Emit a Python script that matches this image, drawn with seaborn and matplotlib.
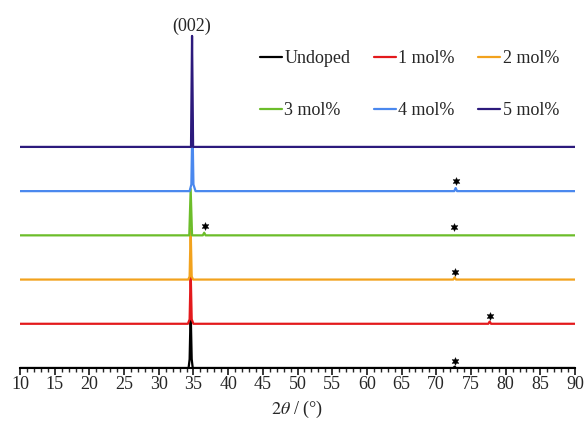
import matplotlib
matplotlib.use('Agg')
import matplotlib.pyplot as plt
import seaborn as sns
import pandas as pd
from matplotlib.ticker import MultipleLocator

# campioni e colori
campioni = ['Undoped', '1 mol%', '2 mol%', '3 mol%', '4 mol%', '5 mol%']
colori = ['#000000', '#e3191c', '#f2a21d', '#6cbd2a', '#4a88ee', '#2c1a7c']

# pattern XRD (2theta, intensita' relativa alla linea di base)
tt_undoped = [10, 34.3, 34.45, 34.6, 34.75, 34.9, 72.45, 72.65, 72.85, 90]
int_undoped = [0, 0, 0.2, 1.3, 0.2, 0, 0, 0.03, 0, 0]
tt_1 = [10, 34.2, 34.45, 34.6, 34.75, 35.0, 77.5, 77.7, 77.9, 90]
int_1 = [0, 0, 0.1, 1.2, 0.1, 0, 0, 0.05, 0, 0]
tt_2 = [10, 34.25, 34.45, 34.6, 34.75, 34.95, 72.45, 72.65, 72.85, 90]
int_2 = [0, 0, 0.07, 1.15, 0.07, 0, 0, 0.05, 0, 0]
tt_3 = [10, 34.4, 34.6, 34.8, 36.35, 36.55, 36.75, 90]
int_3 = [0, 0, 1.05, 0, 0, 0.06, 0, 0]
tt_4 = [10, 34.45, 34.7, 34.85, 35.0, 35.3, 72.6, 72.8, 73.0, 90]
int_4 = [0, 0, 0.15, 1.6, 0.15, 0, 0, 0.07, 0, 0]
tt_5 = [10, 34.65, 34.8, 34.95, 90]
int_5 = [0, 0, 2.51, 0, 0]

# asterischi (2theta, altezza sopra la linea di base)
stelle_tt = [72.65, 77.7, 72.65, 36.6, 72.6, 72.85]
stelle_y = [0.15, 0.18, 0.18, 0.21, 0.18, 0.23]
stelle_serie = [0, 1, 2, 3, 3, 4]

x_pattern = [tt_undoped, tt_1, tt_2, tt_3, tt_4, tt_5]
y_pattern = [int_undoped, int_1, int_2, int_3, int_4, int_5]
spaziatura = 1.0

sns.set_style('white')
plt.rcParams['font.family'] = ['Liberation Serif', 'DejaVu Serif']
plt.rcParams['mathtext.fontset'] = 'stix'

fig = plt.figure(figsize=(5.84, 4.26), dpi=100)
ax = fig.add_axes([20 / 584, 1 - 368 / 426, 555 / 584, 348 / 426])

linee = []
for i, nome in enumerate(campioni):
    df = pd.DataFrame({'tt': x_pattern[i], 'I': [v + i * spaziatura for v in y_pattern[i]]})
    sns.lineplot(data=df, x='tt', y='I', ax=ax, color=colori[i], lw=1.6,
                 sort=False, estimator=None, label=nome, legend=False, zorder=2 + i)
    linee.append(ax.lines[-1])

# asterischi delle fasi secondarie
ax.scatter(stelle_tt, [s * spaziatura + y for s, y in zip(stelle_serie, stelle_y)],
           marker=(6, 1, 0), s=32, c='black', zorder=20, linewidths=0.3)

ax.text(34.8, 5 * spaziatura + 2.53, '(002)', ha='center', va='bottom', fontsize=13)

ax.set_xlim(10, 90)
ax.set_ylim(0, 7.87)
ax.xaxis.set_major_locator(MultipleLocator(5))
ax.xaxis.set_minor_locator(MultipleLocator(1))
ax.tick_params(axis='x', which='major', direction='out', length=5, width=1.3,
               labelsize=13, pad=1, bottom=True)
ax.tick_params(axis='x', which='minor', direction='out', length=3, width=1.0, bottom=True)
ax.set_yticks([])
for lato in ['left', 'right', 'top']:
    ax.spines[lato].set_visible(False)
ax.spines['bottom'].set_linewidth(1.5)
ax.spines['bottom'].set_color('black')
ax.set_xlabel(r'$2\mathit{\theta}$ / (°)', fontsize=13, labelpad=4)
ax.set_ylabel('')

# legenda su 2 righe e 3 colonne
ordine = [0, 3, 1, 4, 2, 5]
ax.legend([linee[k] for k in ordine], [campioni[k] for k in ordine], ncol=3,
          loc='upper left', bbox_to_anchor=(260 / 584, 1 - 50 / 426),
          bbox_transform=fig.transFigure, frameon=False, fontsize=13,
          handlelength=1.2, handletextpad=0.15, columnspacing=1.3,
          labelspacing=1.95, borderpad=0, borderaxespad=0)

fig.savefig('out.png', dpi=100)
